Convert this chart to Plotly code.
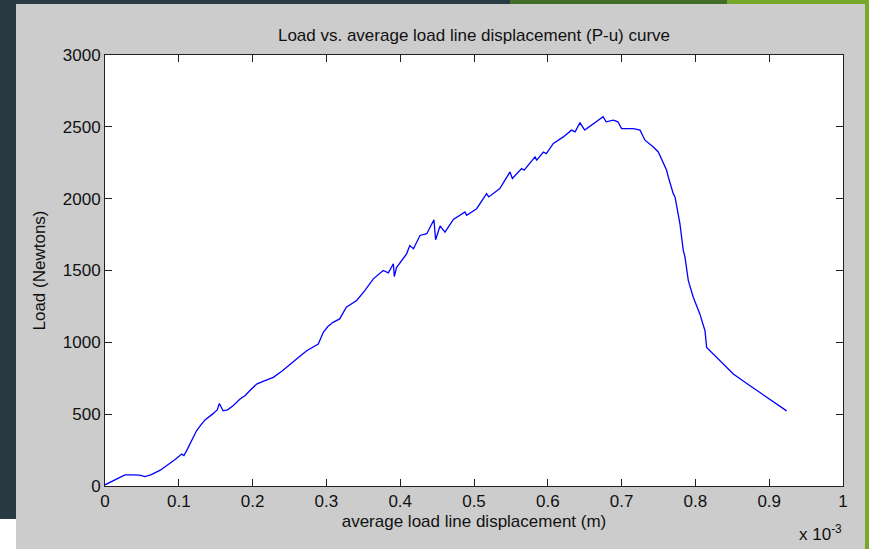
import plotly.graph_objects as go

# Average load line displacement (units of 1e-3 m) and load (N)
displacement = [
    0.000, 0.010, 0.020, 0.027, 0.035, 0.047, 0.054, 0.062, 0.075, 0.085,
    0.095, 0.104, 0.107, 0.112, 0.118, 0.124, 0.130, 0.1355, 0.146, 0.152,
    0.155, 0.158, 0.160, 0.166, 0.1735, 0.183, 0.190, 0.196, 0.2055, 0.215,
    0.228, 0.240, 0.2507, 0.262, 0.2733, 0.282, 0.289, 0.2958, 0.302, 0.309,
    0.318, 0.327, 0.341, 0.352, 0.3636, 0.377, 0.384, 0.3907, 0.392, 0.395,
    0.4087, 0.413, 0.418, 0.4268, 0.436, 0.4457, 0.448, 0.454, 0.4607, 0.472,
    0.4878, 0.490, 0.5036, 0.517, 0.520, 0.535, 0.5488, 0.552, 0.5645, 0.568,
    0.5827, 0.585, 0.594, 0.598, 0.6075, 0.621, 0.6322, 0.637, 0.6436, 0.650,
    0.6617, 0.675, 0.679, 0.6888, 0.695, 0.700, 0.7159, 0.725, 0.7317, 0.743,
    0.7497, 0.7565, 0.761, 0.7633, 0.770, 0.7724, 0.7768, 0.779, 0.7836, 0.7859,
    0.7904, 0.7971, 0.806, 0.813, 0.8152, 0.8198, 0.833, 0.8514, 0.874, 0.8965,
    0.9236,
]
load = [
    8, 35, 60, 77, 78, 76, 66, 78, 110, 145,
    185, 222, 212, 260, 318, 384, 425, 460, 502, 530,
    574, 540, 523, 530, 558, 605, 630, 663, 709, 730,
    756, 800, 849, 895, 942, 970, 988, 1070, 1110, 1139,
    1163, 1244, 1291, 1360, 1442, 1500, 1484, 1547, 1458, 1520,
    1616, 1674, 1651, 1744, 1756, 1853, 1714, 1810, 1767, 1855,
    1907, 1884, 1930, 2035, 2012, 2070, 2186, 2140, 2210, 2198,
    2291, 2268, 2325, 2314, 2384, 2430, 2477, 2465, 2528, 2477,
    2523, 2570, 2535, 2547, 2535, 2488, 2488, 2477, 2407, 2360,
    2325, 2244, 2198, 2151, 2035, 2012, 1872, 1826, 1640, 1593,
    1430, 1314, 1198, 1081, 965, 942, 872, 779, 698, 616,
    523,
]

x_ticks = [0, 0.1, 0.2, 0.3, 0.4, 0.5, 0.6, 0.7, 0.8, 0.9, 1]
x_tick_labels = ["0", "0.1", "0.2", "0.3", "0.4", "0.5", "0.6", "0.7", "0.8", "0.9", "1"]
y_ticks = [0, 500, 1000, 1500, 2000, 2500, 3000]

W, H = 869, 549
L, R, T, B = 105, 26, 55, 63
PW, PH = W - L - R, H - T - B

FONT = "Liberation Sans, Arial, sans-serif"
TEXT = "#111111"
SLATE = "#2a3a42"
DARK_GREEN = "#3f6c27"
LIGHT_GREEN = "#78a82a"


def px_x(p):
    return (p - L) / PW


def px_y(p):
    return (H - B - p) / PH


def band(x0, y0, x1, y1, color):
    return dict(type="rect", xref="paper", yref="paper",
                x0=px_x(x0), x1=px_x(x1), y0=px_y(y0), y1=px_y(y1),
                fillcolor=color, line=dict(width=0), layer="below")


fig = go.Figure()
fig.add_trace(go.Scatter(
    x=displacement, y=load, mode="lines",
    line=dict(color="#0000ff", width=1.3),
    showlegend=False, hoverinfo="x+y",
))

axis_common = dict(
    showgrid=False, zeroline=False,
    showline=True, linecolor="#222222", linewidth=1, mirror="ticks",
    ticks="inside", ticklen=7, tickwidth=1, tickcolor="#222222",
    tickfont=dict(family=FONT, size=17, color=TEXT),
)

fig.update_xaxes(
    range=[0, 1], tickvals=x_ticks, ticktext=x_tick_labels,
    title=dict(text="average load line displacement (m)",
               font=dict(family=FONT, size=17, color=TEXT), standoff=4),
    **axis_common,
)
fig.update_yaxes(
    range=[0, 3000], tickvals=y_ticks,
    title=dict(text="Load (Newtons)",
               font=dict(family=FONT, size=17, color=TEXT), standoff=12),
    **axis_common,
)

fig.update_layout(
    width=W, height=H,
    margin=dict(l=L, r=R, t=T, b=B, autoexpand=False),
    paper_bgcolor="#cccccc", plot_bgcolor="#ffffff",
    title=dict(text="Load vs. average load line displacement (P-u) curve",
               font=dict(family=FONT, size=17, color=TEXT),
               x=474 / W, xanchor="center",
               y=1 - 35 / H, yanchor="middle"),
    shapes=[
        band(0, 0, 16, 519, SLATE),
        band(0, 519, 16, H, "#ffffff"),
        band(0, 0, 510, 4, SLATE),
        band(510, 0, 727, 4, DARK_GREEN),
        band(727, 0, W, 4, LIGHT_GREEN),
        band(865, 0, W, H, LIGHT_GREEN),
    ],
    annotations=[
        dict(xref="paper", yref="paper", x=px_x(844), y=px_y(533),
             xanchor="right", yanchor="middle", showarrow=False,
             text="x 10<sup>-3</sup>",
             font=dict(family=FONT, size=17, color=TEXT)),
    ],
)

fig.write_html("out.html")
